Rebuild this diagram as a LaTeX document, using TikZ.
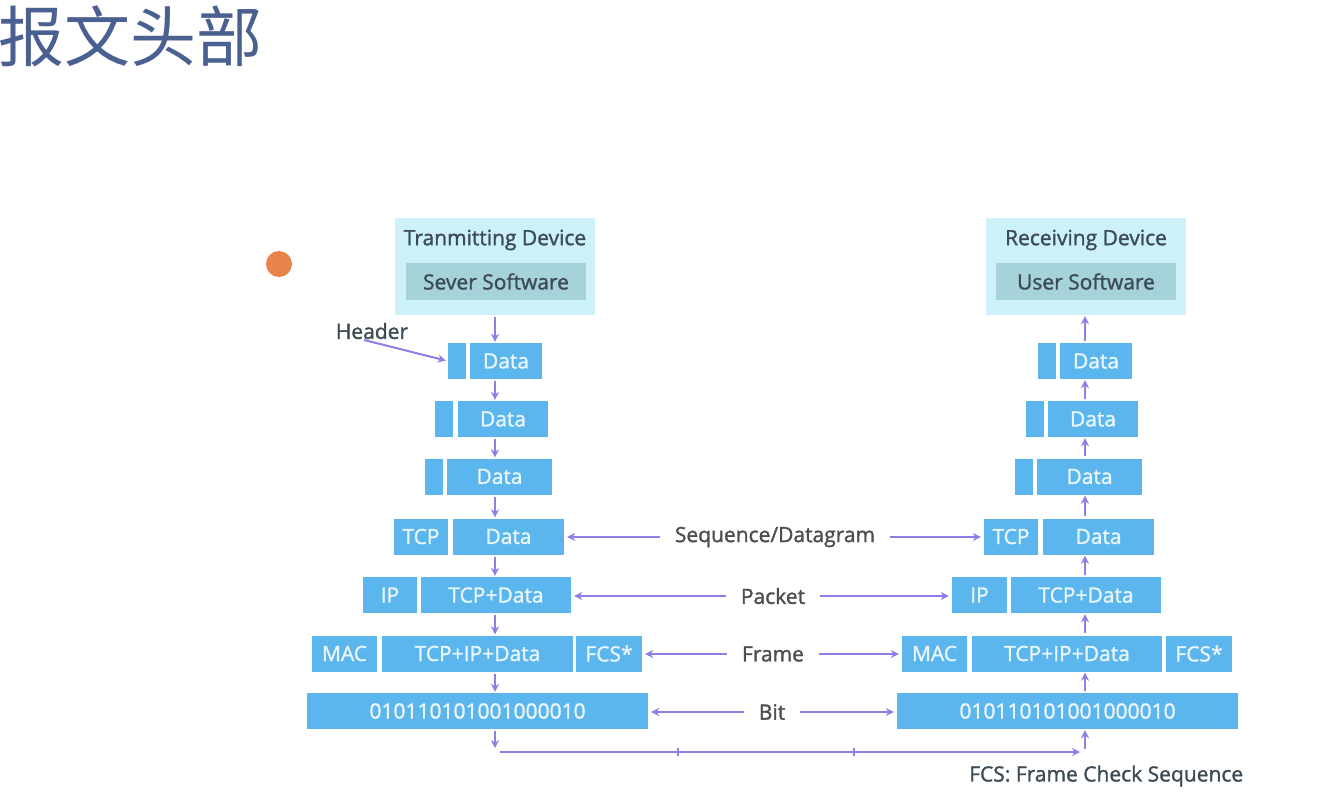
\documentclass[tikz,border=0pt]{standalone}
\usepackage{fontspec}
\setmainfont{Open Sans}
\newfontfamily\sbfont{Open Sans}[FakeBold=1.4]
\newfontfamily\cjk{Noto Sans CJK SC}
\usetikzlibrary{arrows.meta}
\definecolor{boxblue}{HTML}{5CB6EE}
\definecolor{boxtext}{HTML}{EAF6FD}
\definecolor{devout}{HTML}{CCF1F9}
\definecolor{devin}{HTML}{A6D3DA}
\definecolor{devtext}{HTML}{3D4B55}
\definecolor{arrowc}{HTML}{8B80E8}
\definecolor{labtext}{HTML}{4D4D4D}
\definecolor{titlec}{HTML}{4A6090}
\definecolor{dotc}{HTML}{E8844A}
\tikzset{
  txt/.style={font=\sbfont\fontsize{21}{23}\selectfont},
  blk/.style={fill=boxblue, text=boxtext, minimum height=36pt, inner sep=0pt, txt},
  devbox/.style={fill=devout, minimum width=200pt, minimum height=97pt, inner sep=0pt},
  devinner/.style={fill=devin, text=devtext, minimum width=180pt, minimum height=37pt, inner sep=0pt, txt},
  devlabel/.style={text=devtext, inner sep=0pt, txt},
  lab/.style={text=labtext, inner xsep=15pt, inner ysep=0pt, txt},
  arr/.style={draw=arrowc, line width=2pt, -{Stealth[length=8pt,width=8pt]}},
  pline/.style={draw=arrowc, line width=2pt},
}
\begin{document}
\begin{tikzpicture}[x=1pt,y=-1pt]
\fill[white] (0,0) rectangle (1330,808);
\useasboundingbox (0,0) rectangle (1330,808);

\node[anchor=west, text=titlec, inner sep=0pt, font=\cjk\fontsize{66}{68}\selectfont] (title) at (-2,36) {报文头部};
\fill[dotc] (279,264) circle (13);

% left device
\node[devbox] (tdev) at (495,266.5) {};
\node[devlabel] (tdevl) at (495,240) {Tranmitting Device};
\node[devinner] (tsw) at (496,281.5) {Sever Software};
% right device
\node[devbox] (rdev) at (1086,266.5) {};
\node[devlabel] (rdevl) at (1086,240) {Receiving Device};
\node[devinner] (rsw) at (1086,281.5) {User Software};

% left stack
\node[blk, minimum width=18pt] (l1h) at (457,361) {};
\node[blk, minimum width=72pt] (l1d) at (506,361) {Data};
\node[blk, minimum width=18pt] (l2h) at (444,419) {};
\node[blk, minimum width=90pt] (l2d) at (503,419) {Data};
\node[blk, minimum width=18pt] (l3h) at (434,476.5) {};
\node[blk, minimum width=105pt] (l3d) at (499.5,476.5) {Data};
\node[blk, minimum width=54pt] (l4a) at (421,536.5) {TCP};
\node[blk, minimum width=111pt] (l4b) at (508.5,536.5) {Data};
\node[blk, minimum width=54pt] (l5a) at (390,595) {IP};
\node[blk, minimum width=150pt] (l5b) at (496,595) {TCP+Data};
\node[blk, minimum width=65pt] (l6a) at (344.5,653.5) {MAC};
\node[blk, minimum width=191pt] (l6b) at (477.5,653.5) {TCP+IP+Data};
\node[blk, minimum width=66pt] (l6c) at (609,653.5) {FCS*};
\node[blk, minimum width=341pt] (l7) at (477.5,711) {010110101001000010};

% right stack
\node[blk, minimum width=18pt] (r1h) at (1047,361) {};
\node[blk, minimum width=72pt] (r1d) at (1096,361) {Data};
\node[blk, minimum width=18pt] (r2h) at (1035,419) {};
\node[blk, minimum width=90pt] (r2d) at (1093,419) {Data};
\node[blk, minimum width=18pt] (r3h) at (1024,476.5) {};
\node[blk, minimum width=105pt] (r3d) at (1089.5,476.5) {Data};
\node[blk, minimum width=54pt] (r4a) at (1011,536.5) {TCP};
\node[blk, minimum width=111pt] (r4b) at (1098.5,536.5) {Data};
\node[blk, minimum width=55pt] (r5a) at (979.5,595) {IP};
\node[blk, minimum width=150pt] (r5b) at (1086,595) {TCP+Data};
\node[blk, minimum width=65pt] (r6a) at (934.5,653.5) {MAC};
\node[blk, minimum width=190pt] (r6b) at (1067,653.5) {TCP+IP+Data};
\node[blk, minimum width=66pt] (r6c) at (1199,653.5) {FCS*};
\node[blk, minimum width=341pt] (r7) at (1067.5,711) {010110101001000010};

% column coordinates
\coordinate (lx) at (495,0);
\coordinate (rx) at (1085,0);

% left down arrows
\foreach \a/\b in {tdev/l1d, l1d/l2d, l2d/l3d, l3d/l4b, l4b/l5b, l5b/l6b, l6b/l7}
  \draw[arr, shorten <=2pt, shorten >=1pt] (\a.south -| lx) -- (\b.north -| lx);
% right up arrows
\foreach \a/\b in {r1d/rdev, r2d/r1d, r3d/r2d, r4b/r3d, r5b/r4b, r6b/r5b, r7/r6b}
  \draw[arr, shorten <=2pt, shorten >=1pt] (\a.north -| rx) -- (\b.south -| rx);

% layer labels
\node[lab] (sq) at (775,537) {Sequence/Datagram};
\node[lab] (pk) at (773,596) {Packet};
\node[lab] (fr) at (773,654) {Frame};
\node[lab] (bt) at (772,712) {Bit};
\draw[arr, shorten >=3pt] (sq.west) -- (l4b.east |- sq.west);
\draw[arr, shorten >=3pt] (sq.east) -- (r4a.west |- sq.east);
\draw[arr, shorten >=3pt] (pk.west) -- (l5b.east |- pk.west);
\draw[arr, shorten >=3pt] (pk.east) -- (r5a.west |- pk.east);
\draw[arr, shorten >=3pt] (fr.west) -- (l6c.east |- fr.west);
\draw[arr, shorten >=3pt] (fr.east) -- (r6a.west |- fr.east);
\draw[arr, shorten >=3pt] (bt.west) -- (l7.east |- bt.west);
\draw[arr, shorten >=3pt] (bt.east) -- (r7.west |- bt.east);

% bottom link
\coordinate (bl) at (495,748);
\coordinate (bs) at (500,752);
\coordinate (be) at (1080,752);
\coordinate (br) at (1085,749);
\coordinate (t1) at (678,752);
\coordinate (t2) at (854,752);
\draw[arr, shorten <=2pt] (l7.south -| lx) -- (bl);
\draw[arr] (bs) -- (be);
\draw[arr, shorten >=1pt] (br) -- (r7.south -| rx);
\draw[pline, line width=2.5pt] ([yshift=-4pt]t1) -- ([yshift=4pt]t1);
\draw[pline, line width=2.5pt] ([yshift=-4pt]t2) -- ([yshift=4pt]t2);

% header
\node[devlabel] (hdr) at (372,331) {Header};
\coordinate (hs) at (364,340);
\draw[arr, shorten >=2pt] (hs) -- (l1h.west);

% footnote
\node[devlabel, anchor=west] (fcs) at (969,776) {FCS: Frame Check Sequence};
\end{tikzpicture}
\end{document}
